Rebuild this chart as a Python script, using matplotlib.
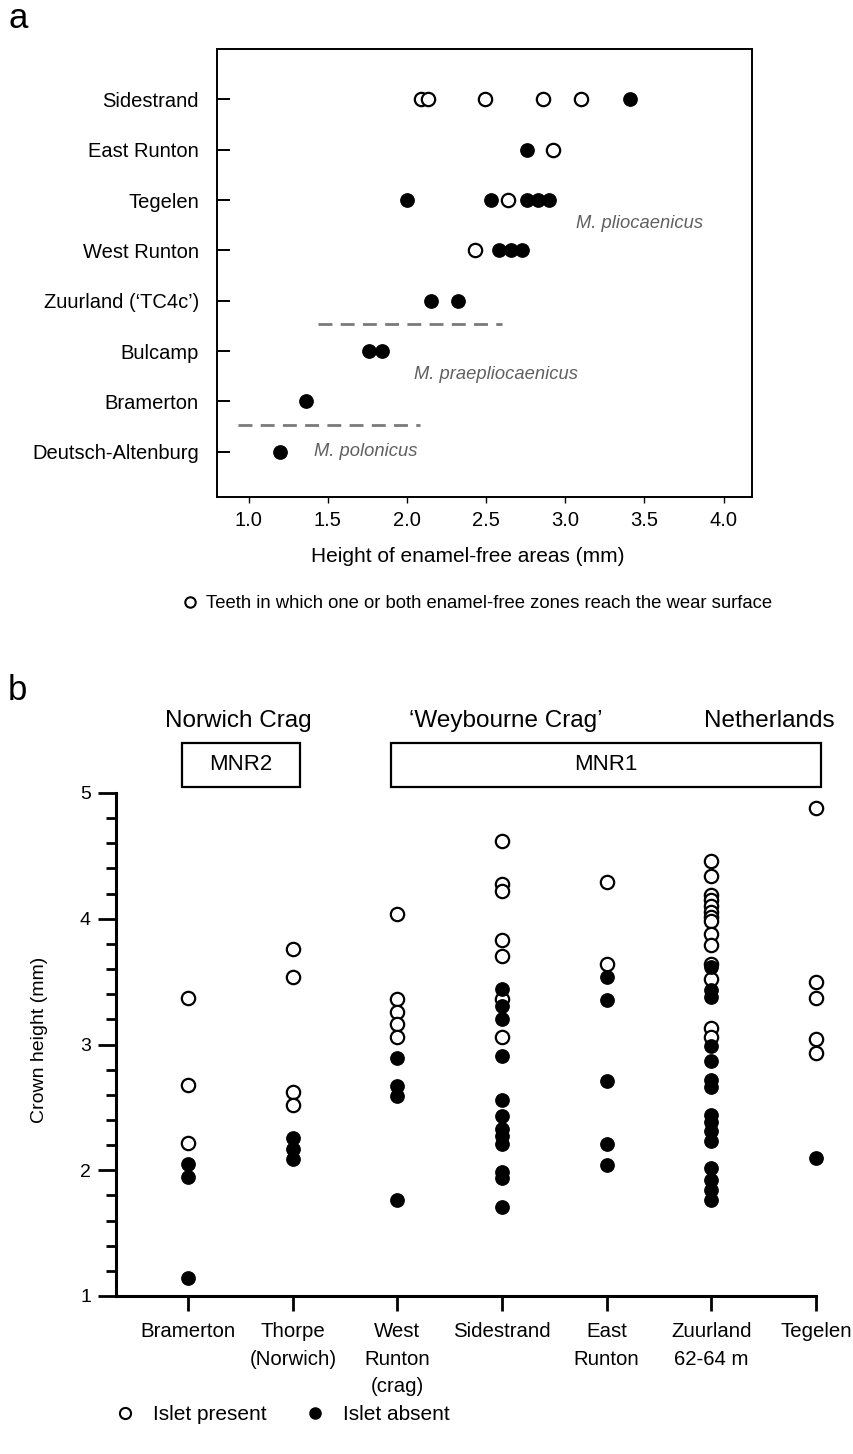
import matplotlib
matplotlib.use('Agg')
import matplotlib.pyplot as plt
from matplotlib.lines import Line2D
from matplotlib.patches import Rectangle
from matplotlib.ticker import MultipleLocator

plt.rcParams['font.family'] = ['Liberation Sans', 'DejaVu Sans']

# ---------------- Panel a data ----------------
sites_a = ['Deutsch-Altenburg', 'Bramerton', 'Bulcamp', 'Zuurland (\u2018TC4c\u2019)',
           'West Runton', 'Tegelen', 'East Runton', 'Sidestrand']
a_open = [[], [], [], [], [2.43], [2.64], [2.92], [2.09, 2.13, 2.49, 2.86, 3.10]]
a_filled = [[1.20], [1.36], [1.76, 1.84], [2.15, 2.32], [2.58, 2.66, 2.73],
            [2.00, 2.53, 2.76, 2.83, 2.90], [2.76], [3.41]]
a_xticks = [1.0, 1.5, 2.0, 2.5, 3.0, 3.5, 4.0]
a_dividers = [(2.53, 1.44, 2.60), (0.53, 0.93, 2.08)]   # (y, xstart, xend)
a_species = [('M. pliocaenicus', 3.47, 4.54, 'center'),
             ('M. praepliocaenicus', 2.56, 1.54, 'center'),
             ('M. polonicus', 1.41, 0.0, 'left')]

# ---------------- Panel b data ----------------
cats_b = ['Bramerton', 'Thorpe\n(Norwich)', 'West\nRunton\n(crag)', 'Sidestrand',
          'East\nRunton', 'Zuurland\n62-64 m', 'Tegelen']
b_present = [
    [3.37, 2.68, 2.22],
    [3.76, 3.54, 2.62, 2.52],
    [4.04, 3.36, 3.26, 3.16, 3.06],
    [4.62, 4.28, 4.22, 3.83, 3.70, 3.36, 3.06],
    [4.29, 3.64],
    [4.46, 4.34, 4.19, 4.15, 4.10, 4.05, 4.01, 3.98, 3.88, 3.79, 3.64, 3.52, 3.13, 3.06],
    [4.88, 3.50, 3.37, 3.04, 2.93],
]
b_absent = [
    [2.05, 1.95, 1.14],
    [2.26, 2.17, 2.09],
    [2.89, 2.67, 2.59, 1.76],
    [3.44, 3.31, 3.20, 2.91, 2.56, 2.43, 2.33, 2.27, 2.21, 1.99, 1.94, 1.71],
    [3.54, 3.35, 2.71, 2.21, 2.04],
    [3.62, 3.43, 3.38, 2.99, 2.87, 2.72, 2.66, 2.44, 2.38, 2.31, 2.23, 2.02, 1.92, 1.84, 1.76],
    [2.10],
]
b_yticks = [1, 2, 3, 4, 5]

W, H = 854, 1454
fig = plt.figure(figsize=(W / 100, H / 100), dpi=100)
fig.patch.set_facecolor('white')


def fx(px):
    return px / W


def fy(py):
    return 1 - py / H


MS = 9.6
open_kw = dict(marker='o', ms=MS, mfc='white', mec='black', mew=1.6, ls='none', clip_on=False)
fill_kw = dict(marker='o', ms=MS, mfc='black', mec='black', mew=1.0, ls='none', clip_on=False)

# ---------------- Panel a ----------------
axa = fig.add_axes([fx(217), fy(497), fx(752 - 217), (497 - 49) / H])
for i, (op, fl) in enumerate(zip(a_open, a_filled)):
    if op:
        axa.plot(op, [i] * len(op), **open_kw, zorder=3)
    if fl:
        axa.plot(fl, [i] * len(fl), **fill_kw, zorder=4)
for y, x0, x1 in a_dividers:
    axa.plot([x0, x1], [y, y], color='#7a7a7a', lw=2.0, dashes=(5, 3))
for txt, x, y, ha in a_species:
    axa.text(x, y, txt, style='italic', color='#606060', fontsize=13.2,
             ha=ha, va='center')
axa.set_xlim(0.80, 4.18)
axa.set_ylim(-0.9, 8.0)
axa.set_yticks(range(len(sites_a)))
axa.set_yticklabels(sites_a, fontsize=14.5)
axa.set_xticks(a_xticks)
axa.set_xticklabels([f'{v:.1f}' for v in a_xticks], fontsize=14.5)
axa.tick_params(axis='y', direction='in', length=9, width=1.4, pad=13)
axa.tick_params(axis='x', direction='out', length=4, width=1.0, pad=6)
for s in axa.spines.values():
    s.set_linewidth(1.4)
fig.text(fx(468), fy(556), 'Height of enamel-free areas (mm)', fontsize=15,
         ha='center', va='center')
fig.text(fx(8), fy(18), 'a', fontsize=25, ha='left', va='center')

h_a = [Line2D([], [], marker='o', ms=7.5, mfc='white', mec='black', mew=1.5, ls='none')]
fig.legend(h_a, ['Teeth in which one or both enamel-free zones reach the wear surface'],
           loc='center left', bbox_to_anchor=(fx(183), fy(604)), frameon=False,
           fontsize=13.3, handlelength=0.8, handletextpad=0.42, borderpad=0,
           borderaxespad=0)

# ---------------- Panel b ----------------
axb = fig.add_axes([fx(116), fy(1296), fx(816 - 116), (1296 - 793) / H])
for i, (pr, ab) in enumerate(zip(b_present, b_absent)):
    axb.plot([i] * len(pr), pr, **open_kw, zorder=3)
    axb.plot([i] * len(ab), ab, **fill_kw, zorder=4)
axb.set_xlim(-0.69, len(cats_b) - 1)
axb.set_ylim(1, 5)
axb.set_xticks(range(len(cats_b)))
axb.set_xticklabels(cats_b, fontsize=14.7, linespacing=1.56, va='top')
axb.set_yticks(b_yticks)
axb.set_yticklabels([str(v) for v in b_yticks], fontsize=14)
axb.yaxis.set_minor_locator(MultipleLocator(0.2))
axb.tick_params(axis='y', which='major', direction='out', length=13, width=2.0, pad=5)
axb.tick_params(axis='y', which='minor', direction='out', length=7.5, width=2.0)
axb.tick_params(axis='x', direction='out', length=11, width=2.0, pad=8)
axb.spines['top'].set_visible(False)
axb.spines['right'].set_visible(False)
for s in ('left', 'bottom'):
    axb.spines[s].set_linewidth(2.2)
fig.text(fx(40), fy(1040), 'Crown height (mm)', rotation=90, fontsize=14,
         ha='center', va='center')
fig.text(fx(8), fy(690), 'b', fontsize=25, ha='left', va='center')

# group headers
for txt, cx in [('Norwich Crag', 238), ('\u2018Weybourne Crag\u2019', 506), ('Netherlands', 769)]:
    fig.text(fx(cx), fy(721), txt, fontsize=17.5, ha='center', va='center')
for txt, x0, x1 in [('MNR2', 182, 300), ('MNR1', 391, 821)]:
    fig.add_artist(Rectangle((fx(x0), fy(787)), fx(x1 - x0), (787 - 743) / H,
                             transform=fig.transFigure, fill=False, ec='black', lw=1.6))
    fig.text(fx((x0 + x1) / 2), fy(765), txt, fontsize=16, ha='center', va='center')

h_b = [Line2D([], [], marker='o', ms=8, mfc='white', mec='black', mew=1.5, ls='none'),
       Line2D([], [], marker='o', ms=8, mfc='black', mec='black', ls='none')]
fig.legend(h_b, ['Islet present', 'Islet absent'], ncol=2,
           loc='center left', bbox_to_anchor=(fx(117), fy(1415)), frameon=False,
           fontsize=15, handlelength=0.8, handletextpad=0.95, columnspacing=1.9,
           borderpad=0, borderaxespad=0)

fig.savefig('out.png', dpi=100, facecolor='white')
